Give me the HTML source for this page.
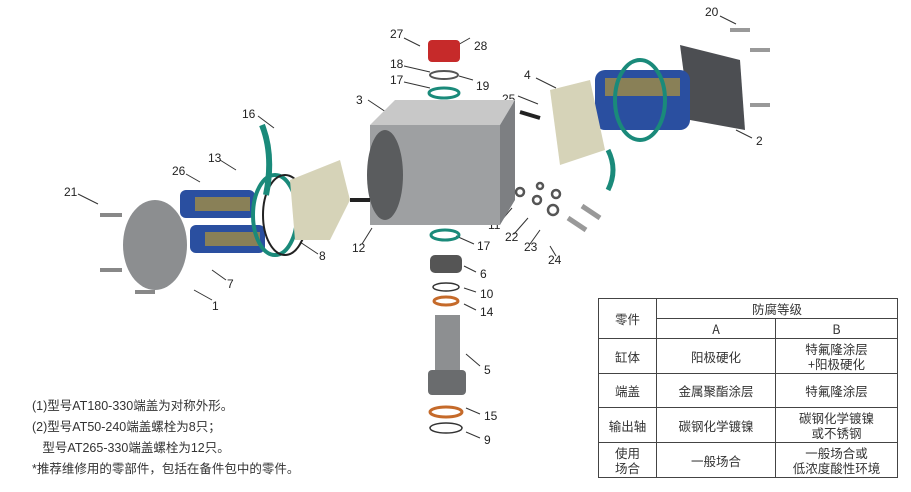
<!DOCTYPE html>
<html><head><meta charset="utf-8"><style>
body{margin:0;width:911px;height:492px;background:#fff;overflow:hidden;font-family:"Liberation Sans","Noto Sans CJK SC",sans-serif;}
svg{position:absolute;left:0;top:0}
.n{font-size:12px;fill:#222}
.notes{position:absolute;left:32px;top:396px;font-size:12.5px;color:#333;line-height:21px;font-family:"Liberation Sans","Noto Sans CJK SC",sans-serif}
table{position:absolute;left:598px;top:298px;border-collapse:collapse;font-size:12.5px;color:#333;font-family:"Noto Sans CJK SC",sans-serif}
td{border:1.5px solid #444;text-align:center;padding:0;line-height:15px}
</style></head><body>
<svg width="911" height="492" viewBox="0 0 911 492">
<g stroke="#333" stroke-width="1" fill="none">
<path d="M404 38l16 8M470 38l-14 8M404 66l26 6M473 80l-14-4M404 82l26 6M368 100l18 12M518 96l20 8M536 78l20 10M720 16l16 8M752 138l-16-8M258 116l16 12M220 160l16 10M186 174l14 8M78 194l20 10M226 280l-14-10M318 254l-18-12M362 244l10-16M212 300l-18-10M500 222l12-14M514 234l14-16M530 244l10-14M556 256l-6-10M474 244l-18-8M476 272l-12-6M476 292l-12-4M476 310l-12-6M480 366l-14-12M480 414l-14-6M480 438l-14-6"/>
</g>
<g class="n">
<text x="390" y="38">27</text><text x="474" y="50">28</text>
<text x="390" y="68">18</text><text x="476" y="90">19</text>
<text x="390" y="84">17</text><text x="356" y="104">3</text>
<text x="502" y="103">25</text><text x="524" y="79">4</text>
<text x="705" y="16">20</text><text x="756" y="145">2</text>
<text x="242" y="118">16</text><text x="208" y="162">13</text>
<text x="172" y="175">26</text><text x="64" y="196">21</text>
<text x="227" y="288">7</text><text x="319" y="260">8</text>
<text x="352" y="252">12</text><text x="212" y="310">1</text>
<text x="488" y="229">11</text><text x="505" y="241">22</text>
<text x="524" y="251">23</text><text x="548" y="264">24</text>
<text x="477" y="250">17</text><text x="480" y="278">6</text>
<text x="480" y="298">10</text><text x="480" y="316">14</text>
<text x="484" y="374">5</text><text x="484" y="420">15</text>
<text x="484" y="444">9</text>
</g>
<!-- body -->
<polygon points="370,125 395,100 515,100 500,125" fill="#c8c8c8"/>
<polygon points="370,125 500,125 500,225 370,225" fill="#9ea0a2"/>
<polygon points="500,125 515,100 515,200 500,225" fill="#7d7f82"/>
<ellipse cx="385" cy="175" rx="18" ry="45" fill="#5a5c5e"/>
<!-- top cap -->
<rect x="428" y="40" width="32" height="22" rx="4" fill="#c62a2a"/>
<ellipse cx="444" cy="75" rx="14" ry="4" fill="none" stroke="#555" stroke-width="2"/>
<ellipse cx="444" cy="93" rx="15" ry="5" fill="none" stroke="#1a8a7a" stroke-width="3"/>
<!-- left end cap -->
<ellipse cx="155" cy="245" rx="32" ry="45" fill="#8c8e90"/>
<g stroke="#888" stroke-width="4"><path d="M100 215h22M100 270h22M135 292h20"/></g>
<rect x="180" y="190" width="75" height="28" rx="6" fill="#2a4fa0"/>
<rect x="190" y="225" width="75" height="28" rx="6" fill="#2a4fa0"/>
<rect x="195" y="197" width="55" height="14" fill="#c9a227" opacity=".6"/>
<rect x="205" y="232" width="55" height="14" fill="#c9a227" opacity=".6"/>
<ellipse cx="275" cy="215" rx="22" ry="40" fill="none" stroke="#1a8a7a" stroke-width="4"/>
<ellipse cx="285" cy="215" rx="22" ry="40" fill="none" stroke="#222" stroke-width="2"/>
<path d="M262 125q12 30 4 70" stroke="#1a8a7a" stroke-width="6" fill="none"/>
<polygon points="290,180 340,160 350,200 330,240 295,240" fill="#d6d3b8"/>
<path d="M350 200h20" stroke="#222" stroke-width="4"/>
<!-- right side -->
<g stroke="#999" stroke-width="4"><path d="M730 30h20M750 50h20M750 105h20"/></g>
<polygon points="680,45 740,60 745,130 690,120" fill="#4c4e52"/>
<rect x="595" y="70" width="95" height="60" rx="10" fill="#2a4fa0"/>
<rect x="605" y="78" width="75" height="18" fill="#c9a227" opacity=".6"/>
<ellipse cx="640" cy="100" rx="25" ry="40" fill="none" stroke="#1a8a7a" stroke-width="4"/>
<polygon points="550,90 590,80 605,150 560,165" fill="#d6d3b8"/>
<path d="M608 150q10 20 0 40" stroke="#1a8a7a" stroke-width="5" fill="none"/>
<path d="M520 112l20 6" stroke="#222" stroke-width="4"/>
<!-- small washers & bolts -->
<g fill="none" stroke="#555" stroke-width="2.5">
<circle cx="520" cy="192" r="4"/><circle cx="537" cy="200" r="4"/><circle cx="553" cy="210" r="5"/>
<circle cx="540" cy="186" r="3"/><circle cx="556" cy="194" r="4"/>
</g>
<g stroke="#999" stroke-width="5"><path d="M568 218l18 12M582 206l18 12"/></g>
<!-- shaft -->
<ellipse cx="445" cy="235" rx="14" ry="5" fill="none" stroke="#1a8a7a" stroke-width="3"/>
<rect x="430" y="255" width="32" height="18" rx="5" fill="#555"/>
<ellipse cx="446" cy="287" rx="13" ry="4" fill="none" stroke="#333" stroke-width="1.5"/>
<ellipse cx="446" cy="301" rx="12" ry="4" fill="none" stroke="#c56a2a" stroke-width="3"/>
<rect x="435" y="315" width="25" height="75" fill="#8d8f91"/>
<rect x="428" y="370" width="38" height="25" rx="4" fill="#6a6c6e"/>
<ellipse cx="446" cy="412" rx="16" ry="5" fill="none" stroke="#c56a2a" stroke-width="3"/>
<ellipse cx="446" cy="428" rx="16" ry="5" fill="none" stroke="#333" stroke-width="1.5"/>
</svg>
<div class="notes">(1)型号AT180-330端盖为对称外形。<br>(2)型号AT50-240端盖螺栓为8只；<br>&nbsp;&nbsp;&nbsp;型号AT265-330端盖螺栓为12只。<br>*推荐维修用的零部件，包括在备件包中的零件。</div>
<table>
<tr style="height:20px"><td rowspan="2" style="width:57px">零件</td><td colspan="2">防腐等级</td></tr>
<tr style="height:20px"><td style="width:118px">A</td><td style="width:121px">B</td></tr>
<tr style="height:35px"><td>缸体</td><td>阳极硬化</td><td>特氟隆涂层<br>+阳极硬化</td></tr>
<tr style="height:34px"><td>端盖</td><td>金属聚酯涂层</td><td>特氟隆涂层</td></tr>
<tr style="height:35px"><td>输出轴</td><td>碳钢化学镀镍</td><td>碳钢化学镀镍<br>或不锈钢</td></tr>
<tr style="height:35px"><td>使用<br>场合</td><td>一般场合</td><td>一般场合或<br>低浓度酸性环境</td></tr>
</table>
</body></html>
